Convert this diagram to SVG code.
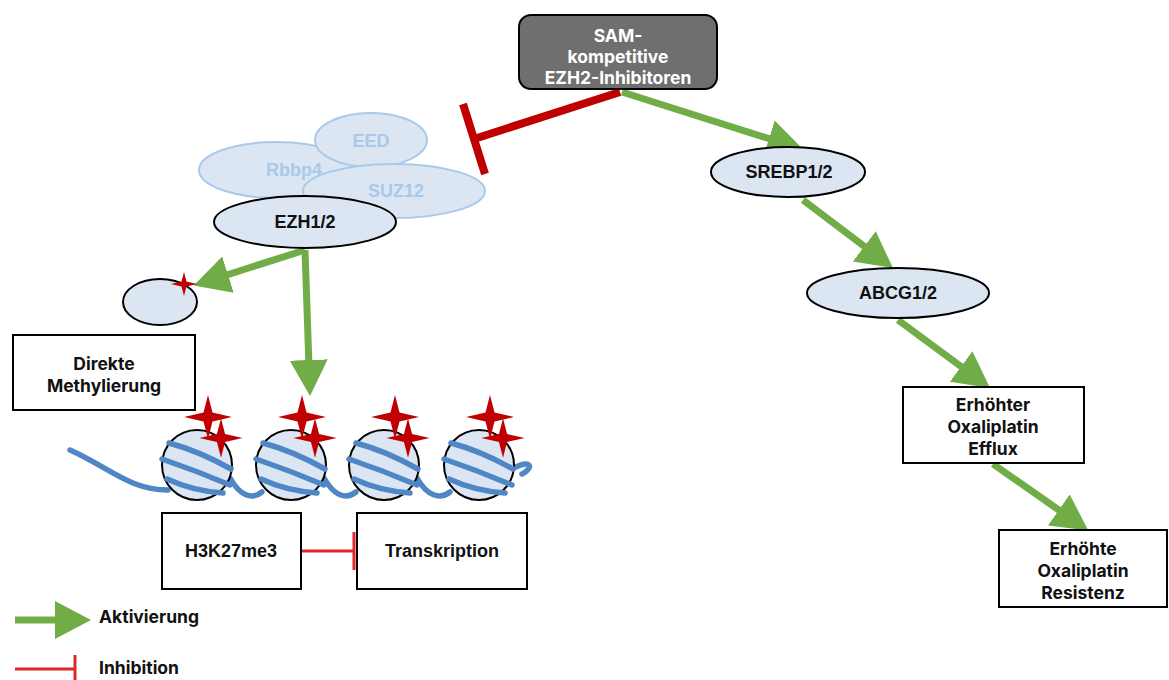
<svg xmlns="http://www.w3.org/2000/svg" width="1169" height="680" viewBox="0 0 1169 680">
  <style>
    .box { fill: #ffffff; stroke: #000000; stroke-width: 2; }
    .node { fill: #dce6f2; stroke: #000000; stroke-width: 2; }
    .sub { fill: #dce6f2; stroke: #a9c9ea; stroke-width: 2; }
    .lab { font-family: "Liberation Sans", Arial, sans-serif; font-weight: bold; font-size: 18px; fill: #111111; text-anchor: middle; }
    .sublab { font-family: "Liberation Sans", Arial, sans-serif; font-weight: bold; font-size: 18px; fill: #a9c9ea; text-anchor: middle; }
    .txt { font-family: Inter, "Open Sans", sans-serif; font-weight: bold; font-size: 17.5px; fill: #111111; text-anchor: middle; }
    .white { fill: #ffffff; }
    .start { text-anchor: start; }
    .act { stroke: #70ad47; stroke-width: 7; fill: none; }
    .inh { stroke: #c00000; stroke-width: 8; fill: none; }
    .inhs { stroke: #e0262b; stroke-width: 3; fill: none; }
    .dna { stroke: #4f86c6; stroke-width: 5.5; fill: none; stroke-linecap: round; }
    .star { fill: #c00000; }
  </style>
  <defs>
    <!-- arrowhead: tip sits 15px beyond the end of the shaft -->
    <marker id="ah" markerUnits="userSpaceOnUse" markerWidth="37" markerHeight="39" refX="21" refY="19" orient="auto">
      <path d="M0,0 L36,19 L0,38 Z" fill="#70ad47"/>
    </marker>
    <path id="st" d="M0,-22 L4.5,-4.5 L24,0 L4.5,4.5 L0,22 L-4.5,4.5 L-24,0 L-4.5,-4.5 Z"/>
    <g id="nuc">
      <circle cx="0" cy="0" r="35" class="node"/>
      <path class="dna" d="M-28,-22 Q2,-14 34,4"/>
      <path class="dna" d="M-35,-6 Q0,6 33,20"/>
      <path class="dna" d="M-30,14 Q-4,26 26,28"/>
      <use href="#st" class="star" x="11" y="-48"/>
      <use href="#st" class="star" transform="translate(24,-27) scale(0.9)"/>
    </g>
  </defs>

  <!-- connectors -->
  <g id="connectors">
    <line class="act" x1="622" y1="92" x2="789" y2="145" marker-end="url(#ah)"/>
    <line class="act" x1="803" y1="200" x2="881" y2="259" marker-end="url(#ah)"/>
    <line class="act" x1="898" y1="320" x2="978" y2="379" marker-end="url(#ah)"/>
    <line class="act" x1="993" y1="464" x2="1076" y2="522" marker-end="url(#ah)"/>
    <line class="act" x1="305" y1="250" x2="208" y2="281" marker-end="url(#ah)"/>
    <line class="act" x1="305" y1="250" x2="309.5" y2="381" marker-end="url(#ah)"/>
    <line class="inh" x1="620" y1="92" x2="474" y2="139"/>
    <line class="inh" x1="463" y1="104" x2="485" y2="174"/>
    <line class="inhs" x1="301" y1="551" x2="354" y2="551"/>
    <line class="inhs" x1="354" y1="532" x2="354" y2="570"/>
  </g>

  <!-- inhibitor -->
  <g id="sam">
    <rect x="519" y="15" width="198" height="74" rx="12" fill="#6f6f6f" stroke="#000000" stroke-width="2"/>
    <text class="txt white" x="618" y="42">SAM-</text>
    <text class="txt white" x="618" y="63">kompetitive</text>
    <text class="txt white" x="618" y="84">EZH2-Inhibitoren</text>
  </g>

  <!-- PRC2 complex -->
  <g id="rbbp4">
    <ellipse cx="276" cy="170" rx="77" ry="28" class="sub"/>
    <text class="sublab" x="294" y="176">Rbbp4</text>
  </g>
  <g id="eed">
    <ellipse cx="371" cy="140" rx="56" ry="27" class="sub"/>
    <text class="sublab" x="371" y="147">EED</text>
  </g>
  <g id="suz12">
    <ellipse cx="394" cy="191" rx="91" ry="27" class="sub"/>
    <text class="sublab" x="396" y="197">SUZ12</text>
  </g>
  <g id="ezh">
    <ellipse cx="305" cy="222" rx="91" ry="26" class="node"/>
    <text class="lab" x="305" y="228">EZH1/2</text>
  </g>

  <!-- direct methylation target -->
  <g id="target">
    <ellipse cx="160" cy="302" rx="37" ry="23" class="node"/>
    <use href="#st" class="star" transform="translate(184,284) scale(0.55)"/>
  </g>
  <g id="direkte">
    <rect x="13" y="335" width="182" height="75" class="box"/>
    <text class="txt" x="104" y="370">Direkte</text>
    <text class="txt" x="104" y="392">Methylierung</text>
  </g>

  <!-- chromatin -->
  <g id="chromatin">
    <path class="dna" d="M70,450 C110,468 130,490 168,490"/>
    <path class="dna" d="M230,478 C240,496 252,500 262,492"/>
    <path class="dna" d="M324,478 C334,496 346,500 356,492"/>
    <path class="dna" d="M417,478 C427,496 440,500 450,492"/>
    <path class="dna" d="M512,469 C532,458 534,468 522,474"/>
    <use href="#nuc" x="197" y="465"/>
    <use href="#nuc" x="291" y="465"/>
    <use href="#nuc" x="384" y="465"/>
    <use href="#nuc" x="479" y="465"/>
  </g>

  <g id="h3k27me3">
    <rect x="162" y="513" width="139" height="76" class="box"/>
    <text class="lab" x="231" y="557">H3K27me3</text>
  </g>
  <g id="transkription">
    <rect x="357" y="513" width="170" height="76" class="box"/>
    <text class="lab" x="442" y="557">Transkription</text>
  </g>

  <!-- right pathway -->
  <g id="srebp">
    <ellipse cx="788" cy="172" rx="77" ry="25" class="node"/>
    <text class="lab" x="789" y="178">SREBP1/2</text>
  </g>
  <g id="abcg">
    <ellipse cx="898" cy="293" rx="91" ry="25" class="node"/>
    <text class="lab" x="898" y="299">ABCG1/2</text>
  </g>
  <g id="efflux">
    <rect x="903" y="387" width="181" height="76" class="box"/>
    <text class="txt" x="993" y="411">Erhöhter</text>
    <text class="txt" x="993" y="433">Oxaliplatin</text>
    <text class="txt" x="993" y="455">Efflux</text>
  </g>
  <g id="resistenz">
    <rect x="999" y="530" width="168" height="77" class="box"/>
    <text class="txt" x="1083" y="555">Erhöhte</text>
    <text class="txt" x="1083" y="577">Oxaliplatin</text>
    <text class="txt" x="1083" y="599">Resistenz</text>
  </g>

  <!-- legend -->
  <g id="legend">
    <line class="act" x1="15" y1="620" x2="76" y2="620" marker-end="url(#ah)"/>
    <text class="txt start" x="99" y="623">Aktivierung</text>
    <line class="inhs" x1="15" y1="669" x2="75" y2="669"/>
    <line class="inhs" x1="75" y1="655" x2="75" y2="680"/>
    <text class="txt start" x="99" y="674">Inhibition</text>
  </g>
</svg>
